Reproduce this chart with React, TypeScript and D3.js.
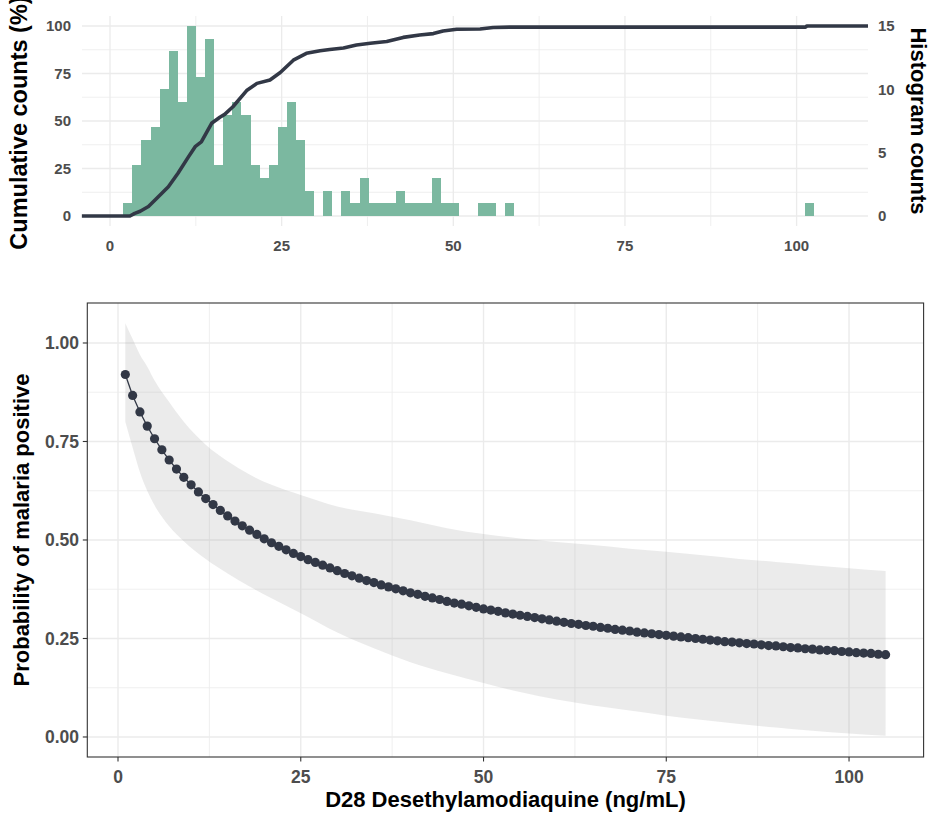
import React from "react";
import { scaleLinear, line, area, curveMonotoneX } from "d3";

// ---- data ----
// histogram of D28 desethylamodiaquine (counts per bin)
const binStart = 1.94;
const binWidth = 1.323;
const histCounts = [
  1, 4, 6, 7, 10, 13, 9, 15, 11, 14, 4, 8, 9, 8, 4, 3, 4, 7, 9, 6, 2, 0, 2, 0,
  2, 1, 3, 1, 1, 1, 2, 1, 1, 1, 3, 1, 1, 0, 0, 1, 1, 0, 1, 0, 0, 0, 0, 0, 0, 0,
  0, 0, 0, 0, 0, 0, 0, 0, 0, 0, 0, 0, 0, 0, 0, 0, 0, 0, 0, 0, 0, 0, 0, 0, 0, 1,
];

// cumulative counts (%) curve
const ecdfX = [
  -4.1, 2.9, 3.6, 4.4, 5.6, 7.0, 8.5, 9.9, 11.4, 12.4, 13.3, 14.8, 16.0, 16.7,
  17.9, 19.9, 21.4, 23.3, 24.8, 26.7, 28.6, 30.6, 32.0, 34.0, 35.9, 37.9, 40.3,
  42.7, 45.1, 47.1, 48.5, 50.5, 53.9, 55.8, 58.2, 101.3, 101.5, 110.4,
];
const ecdfPct = [
  0, 0, 1.4, 2.5, 5, 10, 15.4, 22.5, 31, 36.5, 39, 48.8, 52, 53.5, 57.5, 66,
  69.8, 71.6, 75.5, 82, 85.6, 87, 87.6, 88.4, 90, 90.9, 91.8, 94, 95.3, 96, 97.4,
  98.3, 98.4, 99.2, 99.4, 99.4, 100, 100,
];

// predicted probability for doses 1..105 ng/mL
const doseStart = 1;
const probValues = [
  0.92, 0.867, 0.825, 0.789, 0.757, 0.729, 0.703, 0.68, 0.659, 0.64, 0.622,
  0.605, 0.59, 0.575, 0.561, 0.548, 0.536, 0.525, 0.514, 0.503, 0.493, 0.484,
  0.475, 0.466, 0.458, 0.45, 0.443, 0.436, 0.429, 0.422, 0.415, 0.409, 0.403,
  0.397, 0.392, 0.386, 0.381, 0.376, 0.371, 0.366, 0.362, 0.357, 0.353, 0.349,
  0.344, 0.34, 0.337, 0.333, 0.329, 0.325, 0.322, 0.319, 0.315, 0.312, 0.309,
  0.306, 0.303, 0.3, 0.297, 0.294, 0.291, 0.288, 0.286, 0.283, 0.281, 0.278,
  0.276, 0.273, 0.271, 0.269, 0.266, 0.264, 0.262, 0.26, 0.258, 0.256, 0.254,
  0.252, 0.25, 0.248, 0.246, 0.244, 0.242, 0.241, 0.239, 0.237, 0.236, 0.234,
  0.232, 0.231, 0.229, 0.227, 0.226, 0.224, 0.223, 0.221, 0.22, 0.219, 0.217,
  0.216, 0.214, 0.213, 0.212, 0.21, 0.209,
];

// confidence band
const bandX = [
  1, 2, 3, 4, 5, 7, 9, 12, 15, 18, 21, 25, 30, 35, 40, 45, 50, 55, 60, 65, 70,
  75, 80, 85, 90, 95, 100, 105,
];
const bandUpper = [
  1.05, 1.01, 0.97, 0.94, 0.905, 0.85, 0.8, 0.742, 0.7, 0.666, 0.64, 0.614,
  0.585, 0.568, 0.55, 0.53, 0.515, 0.504, 0.495, 0.487, 0.478, 0.47, 0.461,
  0.452, 0.444, 0.436, 0.428, 0.421,
];
const bandLower = [
  0.8, 0.735, 0.672, 0.625, 0.588, 0.535, 0.497, 0.452, 0.415, 0.382, 0.352,
  0.314, 0.265, 0.225, 0.19, 0.162, 0.137, 0.114, 0.095, 0.08, 0.067, 0.054,
  0.043, 0.033, 0.024, 0.016, 0.009, 0.003,
];

const xTicks = [0, 25, 50, 75, 100];
const xMinor = [12.5, 37.5, 62.5, 87.5];
const pctTicks = [0, 25, 50, 75, 100];
const pctMinor = [12.5, 37.5, 62.5, 87.5];
const cntTicks = [0, 5, 10, 15];
const probTicks = [0, 0.25, 0.5, 0.75, 1];
const probMinor = [0.125, 0.375, 0.625, 0.875];

// ---- layout ----
const W = 931;
const H = 817;
const font = "'Liberation Sans', Arial, Helvetica, sans-serif";
const tickGrey = "#4d4d4d";
const gridCol = "#ebebeb";
const darkCol = "#323846";
const barCol = "#7bb8a0";

const top = { left: 82, right: 868, top: 16, bottom: 226 };
const bot = { left: 87.3, right: 923.6, top: 303, bottom: 757 };

const xTop = scaleLinear().domain([-4.08, 110.4]).range([top.left, top.right]);
const yPct = scaleLinear().domain([-5.26, 105.26]).range([top.bottom, top.top]);
const yCnt = scaleLinear().domain([0, 15]).range([yPct(0), yPct(100)]);

const xBot = scaleLinear().domain([-4.2, 110.2]).range([bot.left, bot.right]);
const yBot = scaleLinear().domain([-0.0508, 1.1015]).range([bot.bottom, bot.top]);

const ecdfLine = line<number>()
  .x((d, i) => xTop(ecdfX[i]))
  .y((d) => yPct(d));

const probLine = line<number>()
  .x((d, i) => xBot(doseStart + i))
  .y((d) => yBot(d));

const band = area<number>()
  .x((d) => xBot(d))
  .y0((d, i) => yBot(bandLower[i]))
  .y1((d, i) => yBot(bandUpper[i]))
  .curve(curveMonotoneX);

function TopChart() {
  return (
    <g>
      {xMinor.map((v) => (
        <line key={`txm${v}`} x1={xTop(v)} x2={xTop(v)} y1={top.top} y2={top.bottom} stroke={gridCol} strokeWidth={0.8} />
      ))}
      {pctMinor.map((v) => (
        <line key={`tym${v}`} x1={top.left} x2={top.right} y1={yPct(v)} y2={yPct(v)} stroke={gridCol} strokeWidth={0.8} />
      ))}
      {xTicks.map((v) => (
        <line key={`txM${v}`} x1={xTop(v)} x2={xTop(v)} y1={top.top} y2={top.bottom} stroke={gridCol} strokeWidth={1.3} />
      ))}
      {pctTicks.map((v) => (
        <line key={`tyM${v}`} x1={top.left} x2={top.right} y1={yPct(v)} y2={yPct(v)} stroke={gridCol} strokeWidth={1.3} />
      ))}
      {histCounts.map((c, i) => {
        if (c === 0) return null;
        const x0 = Math.round(xTop(binStart + i * binWidth));
        const x1 = Math.round(xTop(binStart + (i + 1) * binWidth));
        return (
          <rect
            key={`bar${i}`}
            x={x0}
            width={x1 - x0}
            y={yCnt(c)}
            height={yCnt(0) - yCnt(c)}
            fill={barCol}
            shapeRendering="crispEdges"
          />
        );
      })}
      <path d={ecdfLine(ecdfPct) ?? ""} fill="none" stroke={darkCol} strokeWidth={3.6} strokeLinejoin="round" />
      {xTicks.map((v) => (
        <text key={`txl${v}`} x={xTop(v)} y={251} textAnchor="middle" fontSize={15} fontWeight="bold" fill={tickGrey}>
          {v}
        </text>
      ))}
      {pctTicks.map((v) => (
        <text key={`tyl${v}`} x={71} y={yPct(v)} dy="0.35em" textAnchor="end" fontSize={15} fontWeight="bold" fill={tickGrey}>
          {v}
        </text>
      ))}
      {cntTicks.map((v) => (
        <text key={`tcl${v}`} x={878} y={yCnt(v)} dy="0.35em" textAnchor="start" fontSize={15} fontWeight="bold" fill={tickGrey}>
          {v}
        </text>
      ))}
      <text
        transform={`translate(27,${(top.top + top.bottom) / 2 + 2}) rotate(-90)`}
        textAnchor="middle"
        fontSize={23.5}
        fontWeight="bold"
        fill="#000"
      >
        Cumulative counts (%)
      </text>
      <text
        transform={`translate(911,${(top.top + top.bottom) / 2}) rotate(90)`}
        textAnchor="middle"
        fontSize={22}
        fontWeight="bold"
        fill="#000"
      >
        Histogram counts
      </text>
    </g>
  );
}

function BottomChart() {
  return (
    <g>
      {xMinor.map((v) => (
        <line key={`bxm${v}`} x1={xBot(v)} x2={xBot(v)} y1={bot.top} y2={bot.bottom} stroke={gridCol} strokeWidth={0.8} />
      ))}
      {probMinor.map((v) => (
        <line key={`bym${v}`} x1={bot.left} x2={bot.right} y1={yBot(v)} y2={yBot(v)} stroke={gridCol} strokeWidth={0.8} />
      ))}
      {xTicks.map((v) => (
        <line key={`bxM${v}`} x1={xBot(v)} x2={xBot(v)} y1={bot.top} y2={bot.bottom} stroke={gridCol} strokeWidth={1.4} />
      ))}
      {probTicks.map((v) => (
        <line key={`byM${v}`} x1={bot.left} x2={bot.right} y1={yBot(v)} y2={yBot(v)} stroke={gridCol} strokeWidth={1.4} />
      ))}
      <path d={band(bandX) ?? ""} fill="#999" fillOpacity={0.2} />
      <path d={probLine(probValues) ?? ""} fill="none" stroke={darkCol} strokeWidth={1.3} />
      {probValues.map((p, i) => (
        <circle key={`pt${i}`} cx={xBot(doseStart + i)} cy={yBot(p)} r={4.6} fill={darkCol} />
      ))}
      <rect
        x={bot.left}
        y={bot.top}
        width={bot.right - bot.left}
        height={bot.bottom - bot.top}
        fill="none"
        stroke="#333"
        strokeWidth={1.1}
      />
      {xTicks.map((v) => (
        <g key={`bxt${v}`}>
          <line x1={xBot(v)} x2={xBot(v)} y1={bot.bottom} y2={bot.bottom + 4.5} stroke="#333" strokeWidth={1.1} />
          <text x={xBot(v)} y={783} textAnchor="middle" fontSize={17.5} fontWeight="bold" fill={tickGrey}>
            {v}
          </text>
        </g>
      ))}
      {probTicks.map((v) => (
        <g key={`byt${v}`}>
          <line x1={bot.left - 4.5} x2={bot.left} y1={yBot(v)} y2={yBot(v)} stroke="#333" strokeWidth={1.1} />
          <text x={79} y={yBot(v)} dy="0.35em" textAnchor="end" fontSize={17.5} fontWeight="bold" fill={tickGrey}>
            {v.toFixed(2)}
          </text>
        </g>
      ))}
      <text
        x={(bot.left + bot.right) / 2}
        y={807}
        textAnchor="middle"
        fontSize={22}
        fontWeight="bold"
        fill="#000"
      >
        D28 Desethylamodiaquine (ng/mL)
      </text>
      <text
        transform={`translate(29,${(bot.top + bot.bottom) / 2}) rotate(-90)`}
        textAnchor="middle"
        fontSize={22}
        fontWeight="bold"
        fill="#000"
      >
        Probability of malaria positive
      </text>
    </g>
  );
}

export default function App() {
  return (
    <div style={{ position: "absolute", left: 0, top: 0, width: W, height: H, overflow: "hidden", background: "#fff" }}>
      <svg width={W} height={H} fontFamily={font} style={{ display: "block" }}>
        <rect width={W} height={H} fill="#fff" />
        <TopChart />
        <BottomChart />
      </svg>
    </div>
  );
}
